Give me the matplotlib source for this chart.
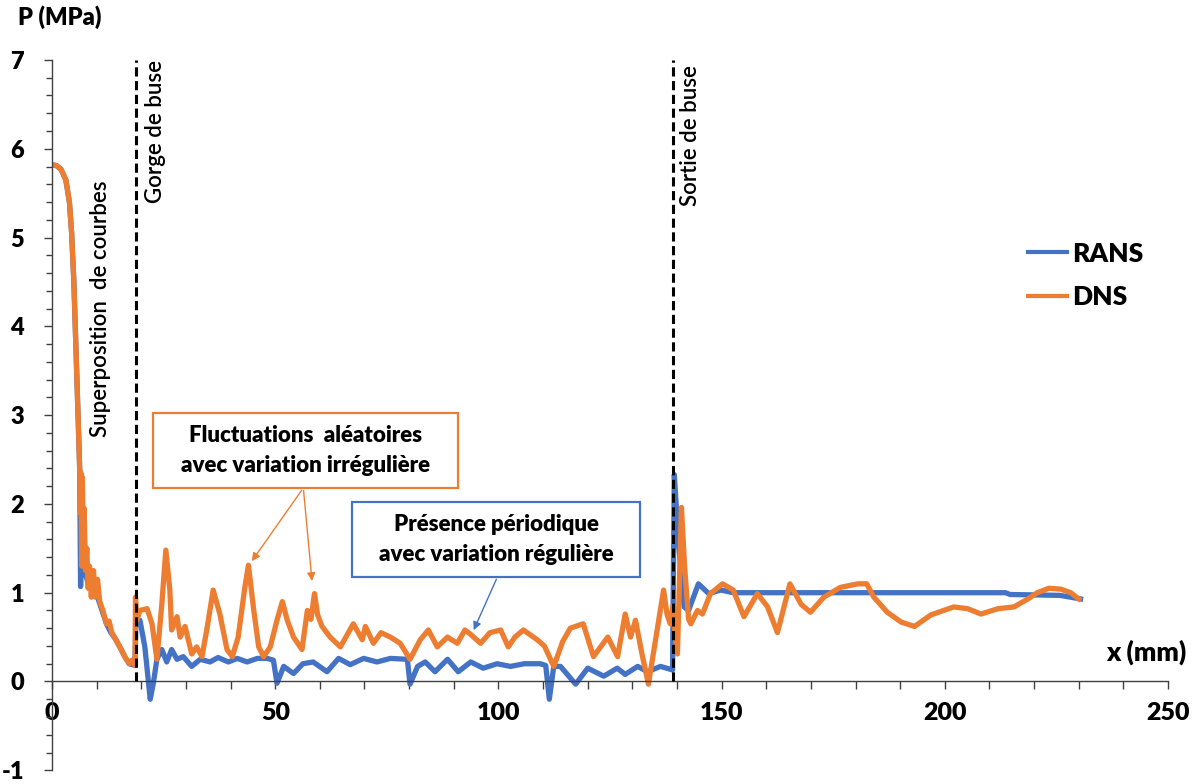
import matplotlib
matplotlib.use("Agg")
import matplotlib.pyplot as plt
from matplotlib.patches import Rectangle
from matplotlib.ticker import MultipleLocator

plt.rcParams['font.family'] = ['Lato', 'DejaVu Sans']
plt.rcParams['axes.unicode_minus'] = False

# RANS pressure along the nozzle axis
rans_x = [0, 1.0, 2.0, 3.1, 3.9, 4.4, 4.9, 5.4, 5.9, 6.2, 6.4, 6.7, 7.1, 7.6, 8.1, 9.2, 10.2, 11.2,
          12.2, 13.2, 14.2, 15.3, 16.3, 17.3, 18.6, 18.8, 19.7, 20.8, 22.0, 22.7, 23.5, 24.6, 25.7,
          26.8, 28.0, 29.4, 31.3, 33.2, 35.4, 37.2, 39.5, 41.5, 43.7, 46.0, 48.2, 49.6, 50.4, 51.9,
          54.1, 56.2, 58.5, 61.6, 64.2, 66.8, 69.8, 72.8, 75.8, 79.6, 80.2, 81.9, 83.6, 85.8, 88.6,
          91.0, 93.8, 96.6, 99.7, 102.7, 105.8, 109.4, 110.6, 111.4, 112.4, 113.9, 117.3, 120.0,
          123.6, 126.6, 128.4, 131.2, 133.4, 136.3, 139.0, 139.4, 140.3, 141.6, 142.6, 144.8, 147.1,
          149.8, 152.6, 183.1, 213.6, 214.6, 225.8, 230.4]
rans_p = [5.82, 5.81, 5.77, 5.65, 5.4, 5.05, 4.5, 3.7, 2.9, 2.4, 1.07, 1.5, 1.4, 1.2, 1.1, 1.0, 0.95,
          0.8, 0.65, 0.55, 0.48, 0.38, 0.28, 0.2, 0.18, 0.7, 0.69, 0.39, -0.2, -0.02, 0.25, 0.36,
          0.22, 0.36, 0.25, 0.28, 0.17, 0.25, 0.22, 0.27, 0.22, 0.26, 0.22, 0.26, 0.26, 0.24,
          -0.02, 0.17, 0.09, 0.2, 0.22, 0.11, 0.26, 0.19, 0.26, 0.22, 0.26, 0.25, -0.03, 0.17,
          0.22, 0.11, 0.25, 0.11, 0.22, 0.15, 0.2, 0.17, 0.2, 0.2, 0.18, -0.2, 0.17, 0.17, -0.03,
          0.15, 0.06, 0.15, 0.08, 0.17, 0.11, 0.17, 0.13, 2.33, 1.6, 0.84, 0.8, 1.1, 0.99, 1.03,
          1.0, 1.0, 1.0, 0.98, 0.97, 0.93]

# DNS pressure along the nozzle axis
dns_x = [0, 1.0, 2.0, 3.1, 3.9, 4.4, 4.9, 5.4, 5.9, 6.2, 6.36, 6.5, 6.66, 6.8, 7.0, 7.2, 7.5, 7.8,
         8.1, 8.4, 8.8, 9.3, 9.7, 10.2, 10.7, 11.4, 12.2, 12.8, 13.4, 14.2, 15.3, 16.3, 17.3, 17.9,
         18.3, 18.6, 18.7, 19.0, 19.7, 21.3, 22.4, 23.5, 24.6, 25.5, 26.4, 26.8, 28.0, 28.7, 29.8,
         31.3, 32.4, 33.6, 34.8, 36.1, 37.6, 39.2, 40.4, 41.7, 43.2, 44.0, 45.2, 46.3, 47.4, 48.9,
         50.4, 51.6, 52.7, 54.1, 56.0, 57.2, 58.0, 58.8, 59.5, 60.5, 62.3, 64.6, 67.5, 69.5, 70.2,
         72.0, 73.7, 75.8, 78.0, 80.2, 82.5, 84.3, 86.3, 88.6, 90.8, 92.5, 93.8, 96.0, 98.1, 100.5,
         102.2, 103.7, 105.6, 108.7, 110.3, 112.4, 114.4, 116.1, 119.0, 121.3, 124.5, 126.7, 128.4,
         129.6, 130.7, 132.2, 133.6, 135.3, 137.0, 137.8, 138.5, 139.1, 139.6, 140.1, 141.0, 141.7,
         142.6, 143.1, 144.6, 145.7, 147.5, 150.2, 152.6, 155.0, 158.0, 160.3, 162.5, 165.3, 167.8,
         169.9, 172.9, 176.6, 180.5, 182.5, 184.1, 187.1, 190.2, 193.2, 196.9, 202.0, 205.1, 208.1,
         211.9, 215.5, 218.6, 220.7, 223.3, 226.0, 228.2, 230.0]
dns_p = [5.82, 5.81, 5.77, 5.65, 5.4, 5.05, 4.5, 3.7, 2.9, 2.4, 1.9, 2.35, 1.3, 2.3, 1.6, 1.95,
         1.25, 1.5, 1.05, 1.3, 0.95, 1.25, 0.95, 1.15, 0.9, 0.8, 0.65, 0.68, 0.55, 0.48, 0.38,
         0.28, 0.2, 0.24, 0.2, 0.18, 0.95, 0.69, 0.8, 0.82, 0.65, 0.25, 0.87, 1.48, 1.03, 0.58,
         0.73, 0.5, 0.62, 0.31, 0.39, 0.28, 0.62, 1.03, 0.76, 0.36, 0.28, 0.5, 1.06, 1.31, 0.8,
         0.39, 0.28, 0.39, 0.69, 0.9, 0.69, 0.5, 0.36, 0.8, 0.7, 0.99, 0.75, 0.62, 0.5, 0.39,
         0.65, 0.47, 0.62, 0.43, 0.55, 0.5, 0.43, 0.25, 0.47, 0.58, 0.39, 0.5, 0.43, 0.58, 0.53,
         0.43, 0.55, 0.58, 0.39, 0.5, 0.58, 0.47, 0.4, 0.17, 0.45, 0.6, 0.65, 0.28, 0.5, 0.28,
         0.76, 0.5, 0.69, 0.3, -0.03, 0.5, 1.03, 0.75, 0.65, 0.85, 0.5, 0.31, 1.96, 1.3, 0.7,
         0.65, 0.8, 0.76, 0.99, 1.1, 1.03, 0.73, 0.99, 0.84, 0.55, 1.1, 0.87, 0.78, 0.95, 1.06,
         1.1, 1.1, 0.95, 0.78, 0.67, 0.62, 0.75, 0.84, 0.82, 0.76, 0.82, 0.84, 0.93, 1.0, 1.05,
         1.04, 1.0, 0.93]

throat_x = 18.8
exit_x = 139.0

blue = "#4472C4"
orange = "#ED7D31"

fig = plt.figure(figsize=(11.98, 7.84), dpi=100)
ax = fig.add_axes([0.0434, 0.0175, 0.9316, 0.9060])

ax.plot(rans_x, rans_p, color=blue, linewidth=3.8, label="RANS", solid_joinstyle="round")
ax.plot(dns_x, dns_p, color=orange, linewidth=3.8, label="DNS", solid_joinstyle="round")

# throat and exit markers
for xv in (throat_x, exit_x):
    ax.plot([xv, xv], [0, 7], color="black", linestyle=(0, (3, 1.5)), linewidth=2.2, zorder=5)

ax.set_xlim(0, 250)
ax.set_ylim(-1, 7)
ax.spines['top'].set_visible(False)
ax.spines['right'].set_visible(False)
ax.spines['left'].set_position(('data', 0))
ax.spines['bottom'].set_position(('data', 0))
for s in ('left', 'bottom'):
    ax.spines[s].set_color("#404040")
    ax.spines[s].set_linewidth(1)

ax.xaxis.set_major_locator(MultipleLocator(50))
ax.xaxis.set_minor_locator(MultipleLocator(10))
ax.yaxis.set_major_locator(MultipleLocator(1))
ax.yaxis.set_minor_locator(MultipleLocator(0.2))
ax.tick_params(axis='x', which='major', direction='out', length=6, width=1, color="#404040",
               pad=9, labelsize=18)
ax.tick_params(axis='x', which='minor', direction='out', length=6, width=1, color="#404040")
ax.tick_params(axis='y', which='major', direction='out', length=6, width=1, color="#404040",
               pad=14, labelsize=17)
ax.tick_params(axis='y', which='minor', direction='out', length=4, width=1, color="#404040")
for lab in ax.get_xticklabels() + ax.get_yticklabels():
    lab.set_fontweight('heavy')

fig.text(0.015, 0.978, "P (MPa)", fontsize=17, fontweight='heavy', ha='left', va='center')
fig.text(0.99, 0.168, "x (mm)", fontsize=19, fontweight='heavy', ha='right', va='center')

# rotated region labels
ax.text(10.8, 4.2, "Superposition  de courbes", rotation=90, fontsize=16, fontweight='semibold',
        ha='center', va='center')
ax.text(23.1, 6.2, "Gorge de buse", rotation=90, fontsize=16, fontweight='semibold',
        ha='center', va='center')
ax.text(143.0, 6.15, "Sortie de buse", rotation=90, fontsize=16, fontweight='semibold',
        ha='center', va='center')

# annotation boxes
ax.add_patch(Rectangle((22.6, 2.18), 68.4, 0.84, fill=False, edgecolor=orange, linewidth=1.6, zorder=6))
ax.text(56.8, 2.6, "Fluctuations  aléatoires\navec variation irrégulière", fontsize=16,
        fontweight='heavy', ha='center', va='center', linespacing=1.5, zorder=6)
ax.add_patch(Rectangle((67.3, 1.18), 64.5, 0.84, fill=False, edgecolor=blue, linewidth=1.6, zorder=6))
ax.text(99.6, 1.6, "Présence périodique\navec variation régulière", fontsize=16,
        fontweight='heavy', ha='center', va='center', linespacing=1.5, zorder=6)

arrow_o = dict(arrowstyle="-|>", color=orange, linewidth=1, mutation_scale=12)
ax.annotate("", xy=(44.4, 1.33), xytext=(56.3, 2.18), arrowprops=arrow_o, zorder=6)
ax.annotate("", xy=(58.3, 1.1), xytext=(56.3, 2.18), arrowprops=arrow_o, zorder=6)
arrow_b = dict(arrowstyle="-|>", color=blue, linewidth=1, mutation_scale=12)
ax.annotate("", xy=(94.2, 0.55), xytext=(99.8, 1.18), arrowprops=arrow_b, zorder=6)

leg = ax.legend(loc='upper left', bbox_to_anchor=(0.838, 0.722), bbox_transform=fig.transFigure,
                frameon=False, handlelength=1.5, handletextpad=0.2, labelspacing=0.75,
                prop={'weight': 'heavy', 'size': 19})
for line in leg.get_lines():
    line.set_linewidth(3)

fig.savefig("out.png", dpi=100)
